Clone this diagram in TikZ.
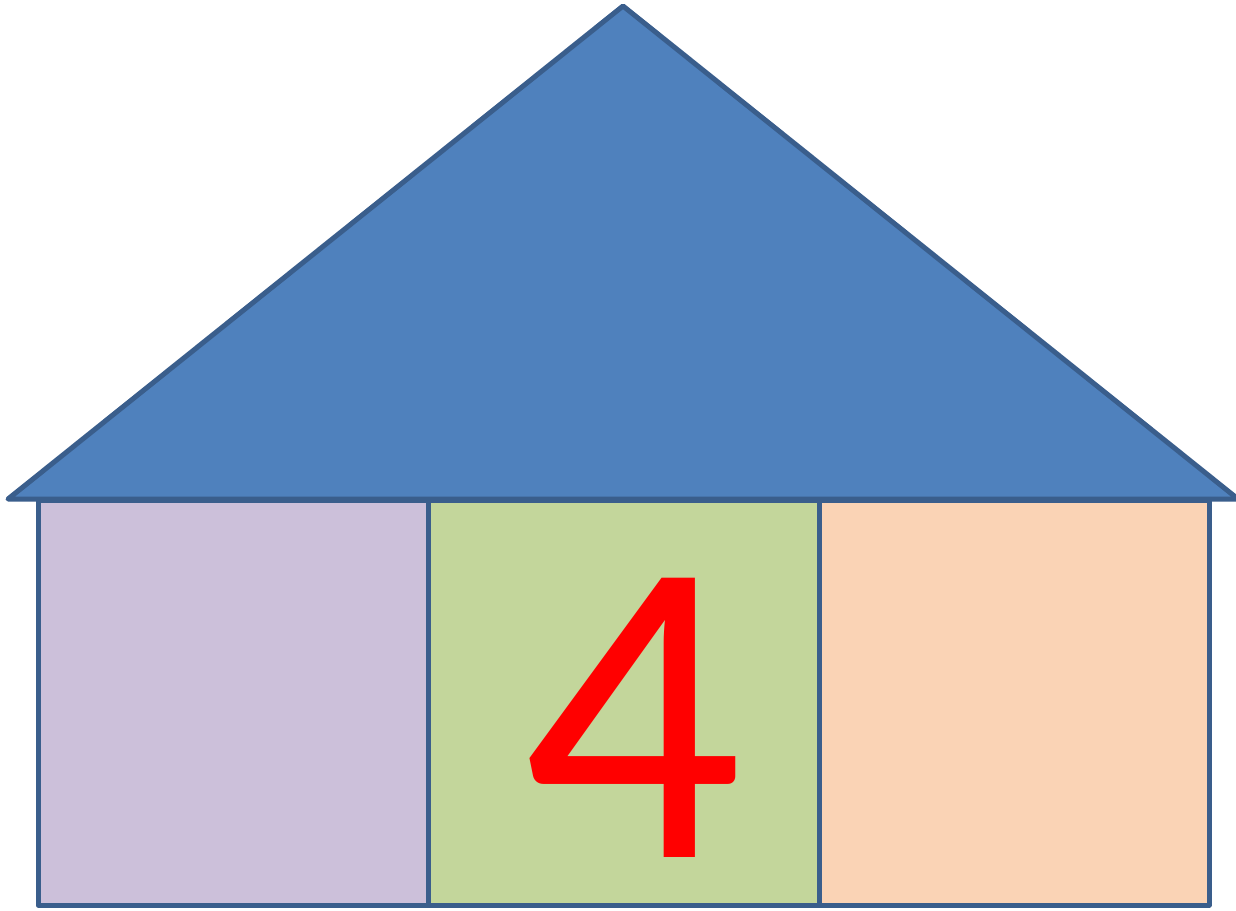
\documentclass[tikz,border=0pt]{standalone}
\usepackage{fontspec}
\newfontfamily\digitfont{Carlito}
\definecolor{roofblue}{HTML}{4F81BD}
\definecolor{edgeblue}{HTML}{3A5E8C}
\definecolor{lilac}{HTML}{CCC0DA}
\definecolor{sage}{HTML}{C3D69B}
\definecolor{peach}{HTML}{FAD3B5}
\begin{document}
\begin{tikzpicture}[x=1pt,y=-1pt,
  part/.style={draw=edgeblue,line width=5pt,line join=round,line cap=round}]
\useasboundingbox (0,0) rectangle (1236,910);
\path[part,fill=lilac] (38,500) rectangle (428,905);
\path[part,fill=sage] (428,500) rectangle (819,905);
\path[part,fill=peach] (819,500) rectangle (1209,905);
\path[part,fill=roofblue] (8,499) -- (623,6) -- (1238,499) -- cycle;
\node[inner sep=0pt,text=red,font=\digitfont\fontsize{435}{435}\selectfont] (four) at (633,718) {4};
\end{tikzpicture}
\end{document}
